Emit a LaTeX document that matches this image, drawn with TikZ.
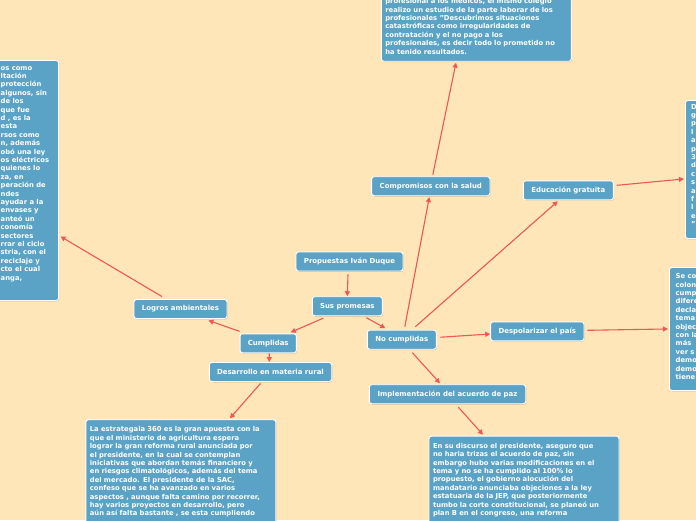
\documentclass[tikz,border=0pt]{standalone}
\usepackage{fontspec}
\setsansfont{DejaVu Sans}
\usetikzlibrary{arrows.meta,shadows}
\definecolor{bg}{HTML}{FFE6B8}
\definecolor{boxblue}{HTML}{5AA3C6}
\definecolor{arr}{HTML}{EE5753}
\tikzset{
 base/.style={draw=white, line width=0.9pt, fill=boxblue, rounded corners=2.5pt, text=white,
   drop shadow={shadow xshift=0.6pt, shadow yshift=-0.8pt, opacity=0.35, fill=black!60}},
 topic/.style={base, font=\sffamily\bfseries\fontsize{6.95}{9}\selectfont, inner sep=0pt, minimum height=19pt},
 note/.style={base, font=\sffamily\bfseries\fontsize{6.8}{8.4}\selectfont, inner xsep=4pt, inner ysep=7pt, text width=182pt, align=left},
 plainbox/.style={base, inner sep=0pt},
 frag/.style={font=\sffamily\bfseries\fontsize{6.8}{8.4}\selectfont, text=white, inner sep=0pt, align=left},
 link/.style={draw=arr, line width=1.1pt, -{Triangle[length=5pt,width=5pt]}},
}
\begin{document}
\begin{tikzpicture}[x=1pt,y=-1pt]
\path[use as bounding box, fill=bg] (0,0) rectangle (696,520);
\clip (0,0) rectangle (696,520);

% topic nodes
\node[topic, minimum width=107pt] (pid) at (349.5,261.5) {Propuestas Iván Duque};
\node[topic, minimum width=70pt] (sp) at (347.3,306.2) {Sus promesas};
\node[topic, minimum width=56.3pt] (cu) at (268.2,343.3) {Cumplidas};
\node[topic, minimum width=93pt] (la) at (180.5,309) {Logros ambientales};
\node[topic, minimum width=122.4pt] (dr) at (270.5,372) {Desarrollo en materia rural};
\node[topic, minimum width=69pt] (nc) at (401.8,339.7) {No cumplidas};
\node[topic, minimum width=118.3pt] (cs) at (430.8,186.2) {Compromisos con la salud};
\node[topic, minimum width=90pt] (eg) at (568.3,190.3) {Educación gratuita};
\node[topic, minimum width=93.3pt] (dp) at (537.3,331.3) {Despolarizar el país};
\node[topic, minimum width=156.4pt] (im) at (447.5,394.2) {Implementación del acuerdo de paz};

% text boxes
\node[note, anchor=south] (health) at (476.3,61.7) {profesional a los médicos, el mismo colegio\\
realizo un estudio de la parte laborar de los\\
profesionales "Descubrimos situaciones\\
catastróficas como irregularidades de\\
contratación y el no pago a los\\
profesionales, es decir todo lo prometido no\\
ha tenido resultados.};

\node[note, anchor=north] (rural) at (180.9,419.3) {La estrategaia 360 es la gran apuesta con la\\
que el ministerio de agricultura espera\\
lograr la gran reforma rural anunciada por\\
el presidente, en la cual se contemplan\\
iniciativas que abordan temás financiero y\\
en riesgos climatológicos, además del tema\\
del mercado. El presidente de la SAC,\\
confeso que se ha avanzado en varios\\
aspectos , aunque falta camino por recorrer,\\
hay varios proyectos en desarrollo, pero\\
aún así falta bastante , se esta cumpliendo};

\node[note, anchor=north] (paz) at (524,435.7) {En su discurso el presidente, aseguro que\\
no haria trizas el acuerdo de paz, sin\\
embargo hubo varias modificaciones en el\\
tema y no se ha cumplido al 100\% lo\\
propuesto, el gobierno alocución del\\
mandatario anunciaba objeciones a la ley\\
estatuaria de la JEP, que posteriormente\\
tumbo la corte constitucional, se planeó un\\
plan B en el congreso, una reforma};

\node[plainbox, minimum width=200pt, minimum height=240pt, anchor=north east] (lb) at (59,60) {};
\node[frag, anchor=north west] (lbt) at (0.5,66) {os como\\ ltación\\ protección\\ algunos, sin\\ de los\\ que fue\\ d , es la\\ esta\\ rsos como\\ n, además\\ obó una ley\\ os eléctricos\\ quienes lo\\ za, en\\ peración de\\ ndes\\ ayudar a la\\ envases y\\ anteó un\\ conomía\\ sectores\\ rrar el ciclo\\ stria, con el\\ reciclaje y\\ cto el cual\\ anga,};

\node[plainbox, minimum width=60pt, minimum height=138pt, anchor=north west] (rt) at (685,100) {};
\node[frag, anchor=north west] (rtt) at (691,104) {D\\ g\\ p\\ l\\ a\\ p\\ 3\\ d\\ c\\ s\\ a\\ f\\ l\\ e\\ "};

\node[plainbox, minimum width=60pt, minimum height=123pt, anchor=north west] (rm) at (669,267) {};
\node[frag, anchor=north west] (rmt) at (675.5,273.5) {Se co\\ colon\\ cump\\ difere\\ decla\\ tema\\ objec\\ con la\\ más\\ ver s\\ demo\\ demo\\ tiene};

% links
\draw[link] ([xshift=-1.5pt,yshift=-3pt]pid.south) -- (sp.north);
\draw[link] ([xshift=-24pt,yshift=-2pt]sp.south) -- ([xshift=22.5pt,yshift=1pt]cu.north);
\draw[link] ([xshift=19pt,yshift=-1.5pt]sp.south) -- ([xshift=18.5pt,yshift=1.5pt]nc.north west);
\draw[link] ([yshift=2pt]cu.north west) -- ([xshift=-19pt,yshift=-1.5pt]la.south east);
\draw[link] ([xshift=-18.5pt,yshift=2.5pt]la.north) -- ([xshift=1.5pt,yshift=-56pt]lb.east);
\draw[link] ([xshift=1pt]cu.south) -- ([xshift=-1.2pt]dr.north);
\draw[link] ([xshift=-10pt,yshift=-1.5pt]dr.south) -- ([xshift=49pt,yshift=1pt]rural.north);
\draw[link] ([xshift=3pt,yshift=3pt]nc.north) -- ([xshift=-1.5pt,yshift=-1pt]cs.south);
\draw[link] ([xshift=2pt,yshift=1.5pt]cs.north) -- ([xshift=-20.3pt,yshift=-1pt]health.south);
\draw[link] ([xshift=13.5pt,yshift=3pt]nc.north) -- ([xshift=-10.5pt,yshift=-1pt]eg.south);
\draw[link] ([xshift=3pt,yshift=5pt]eg.east) -- ([xshift=-1pt,yshift=-9.5pt]rt.west);
\draw[link] ([xshift=3.7pt,yshift=2.5pt]nc.east) -- ([yshift=-2.7pt]dp.west);
\draw[link] ([xshift=3pt,yshift=1pt]dp.east) -- ([xshift=-1pt]rm.west);
\draw[link] ([xshift=10.5pt,yshift=-3pt]nc.south) -- ([xshift=-7.5pt,yshift=1pt]im.north);
\draw[link] ([xshift=10.8pt,yshift=-3pt]im.south) -- ([xshift=-41pt,yshift=1pt]paz.north);
\end{tikzpicture}
\end{document}
